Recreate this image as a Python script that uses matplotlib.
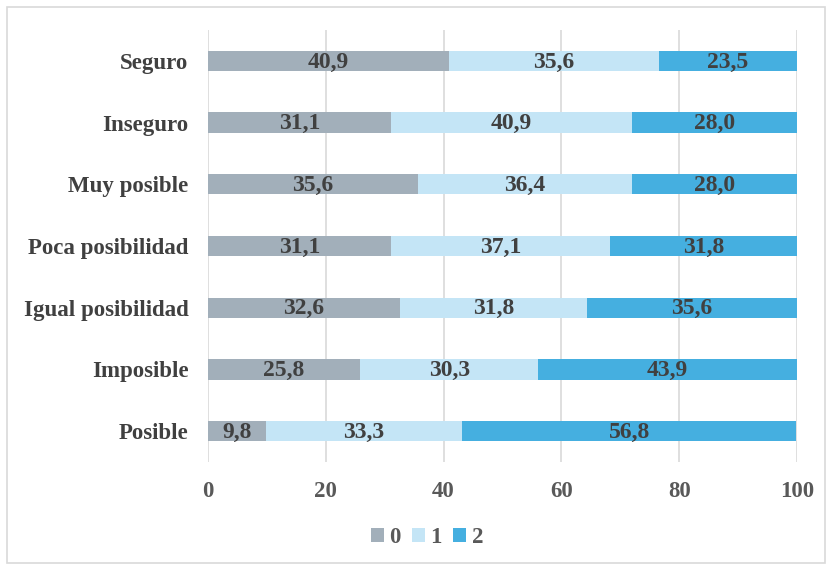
import numpy as np
import matplotlib.pyplot as plt
from matplotlib.patches import Rectangle

# 数据
categories = ["Seguro", "Inseguro", "Muy posible", "Poca posibilidad",
              "Igual posibilidad", "Imposible", "Posible"]
serie_0 = [40.9, 31.1, 35.6, 31.1, 32.6, 25.8, 9.8]
serie_1 = [35.6, 40.9, 36.4, 37.1, 31.8, 30.3, 33.3]
serie_2 = [23.5, 28.0, 28.0, 31.8, 35.6, 43.9, 56.8]
series_names = ["0", "1", "2"]
colors = ["#A2AFBA", "#C4E5F6", "#45AFE0"]

plt.rcParams['font.family'] = ['Liberation Serif', 'DejaVu Serif']
plt.rcParams['font.weight'] = 'bold'

fig = plt.figure(figsize=(8.27, 5.65), dpi=100)
ax = fig.add_axes([0.2515, 0.1823, 0.7122, 0.7646])

# 外框
fig.patches.append(Rectangle((0.009, 0.004), 0.988, 0.984, transform=fig.transFigure,
                             fill=False, edgecolor="#D9D9D9", linewidth=1.2))

y = np.arange(len(categories))
left = np.zeros(len(categories))
for vals, name, c in zip([serie_0, serie_1, serie_2], series_names, colors):
    vals = np.array(vals)
    ax.barh(y, vals, left=left, height=0.33, color=c, label=name, zorder=3)
    for yi, l, v in zip(y, left, vals):
        ax.text(l + v / 2, yi + 0.02, f"{v:.1f}".replace(".", ","), ha="center", va="center",
                fontsize=17, fontweight="bold", color="#404040", zorder=4)
    left += vals

ax.set_ylim(len(categories) - 0.5, -0.5)
ax.set_xlim(0, 100)
ax.set_xticks([0, 20, 40, 60, 80, 100])
ax.set_yticks(y)
ax.set_yticklabels(categories)
ax.xaxis.grid(True, color="#D9D9D9", linewidth=1.2, zorder=0)
for s in ax.spines.values():
    s.set_visible(False)
ax.tick_params(axis="both", length=0, labelsize=16.5, colors="#595959")
ax.tick_params(axis="y", pad=14)
ax.tick_params(axis="x", pad=14)
for lbl in ax.get_yticklabels():
    lbl.set_color("#404040")

ax.legend(loc="center", bbox_to_anchor=(0.372, -0.175), ncol=3, frameon=False,
          fontsize=16.5, handlelength=0.55, handleheight=0.55, handletextpad=0.25,
          columnspacing=0.5, labelcolor="#595959")

fig.savefig("out.png", dpi=100)
